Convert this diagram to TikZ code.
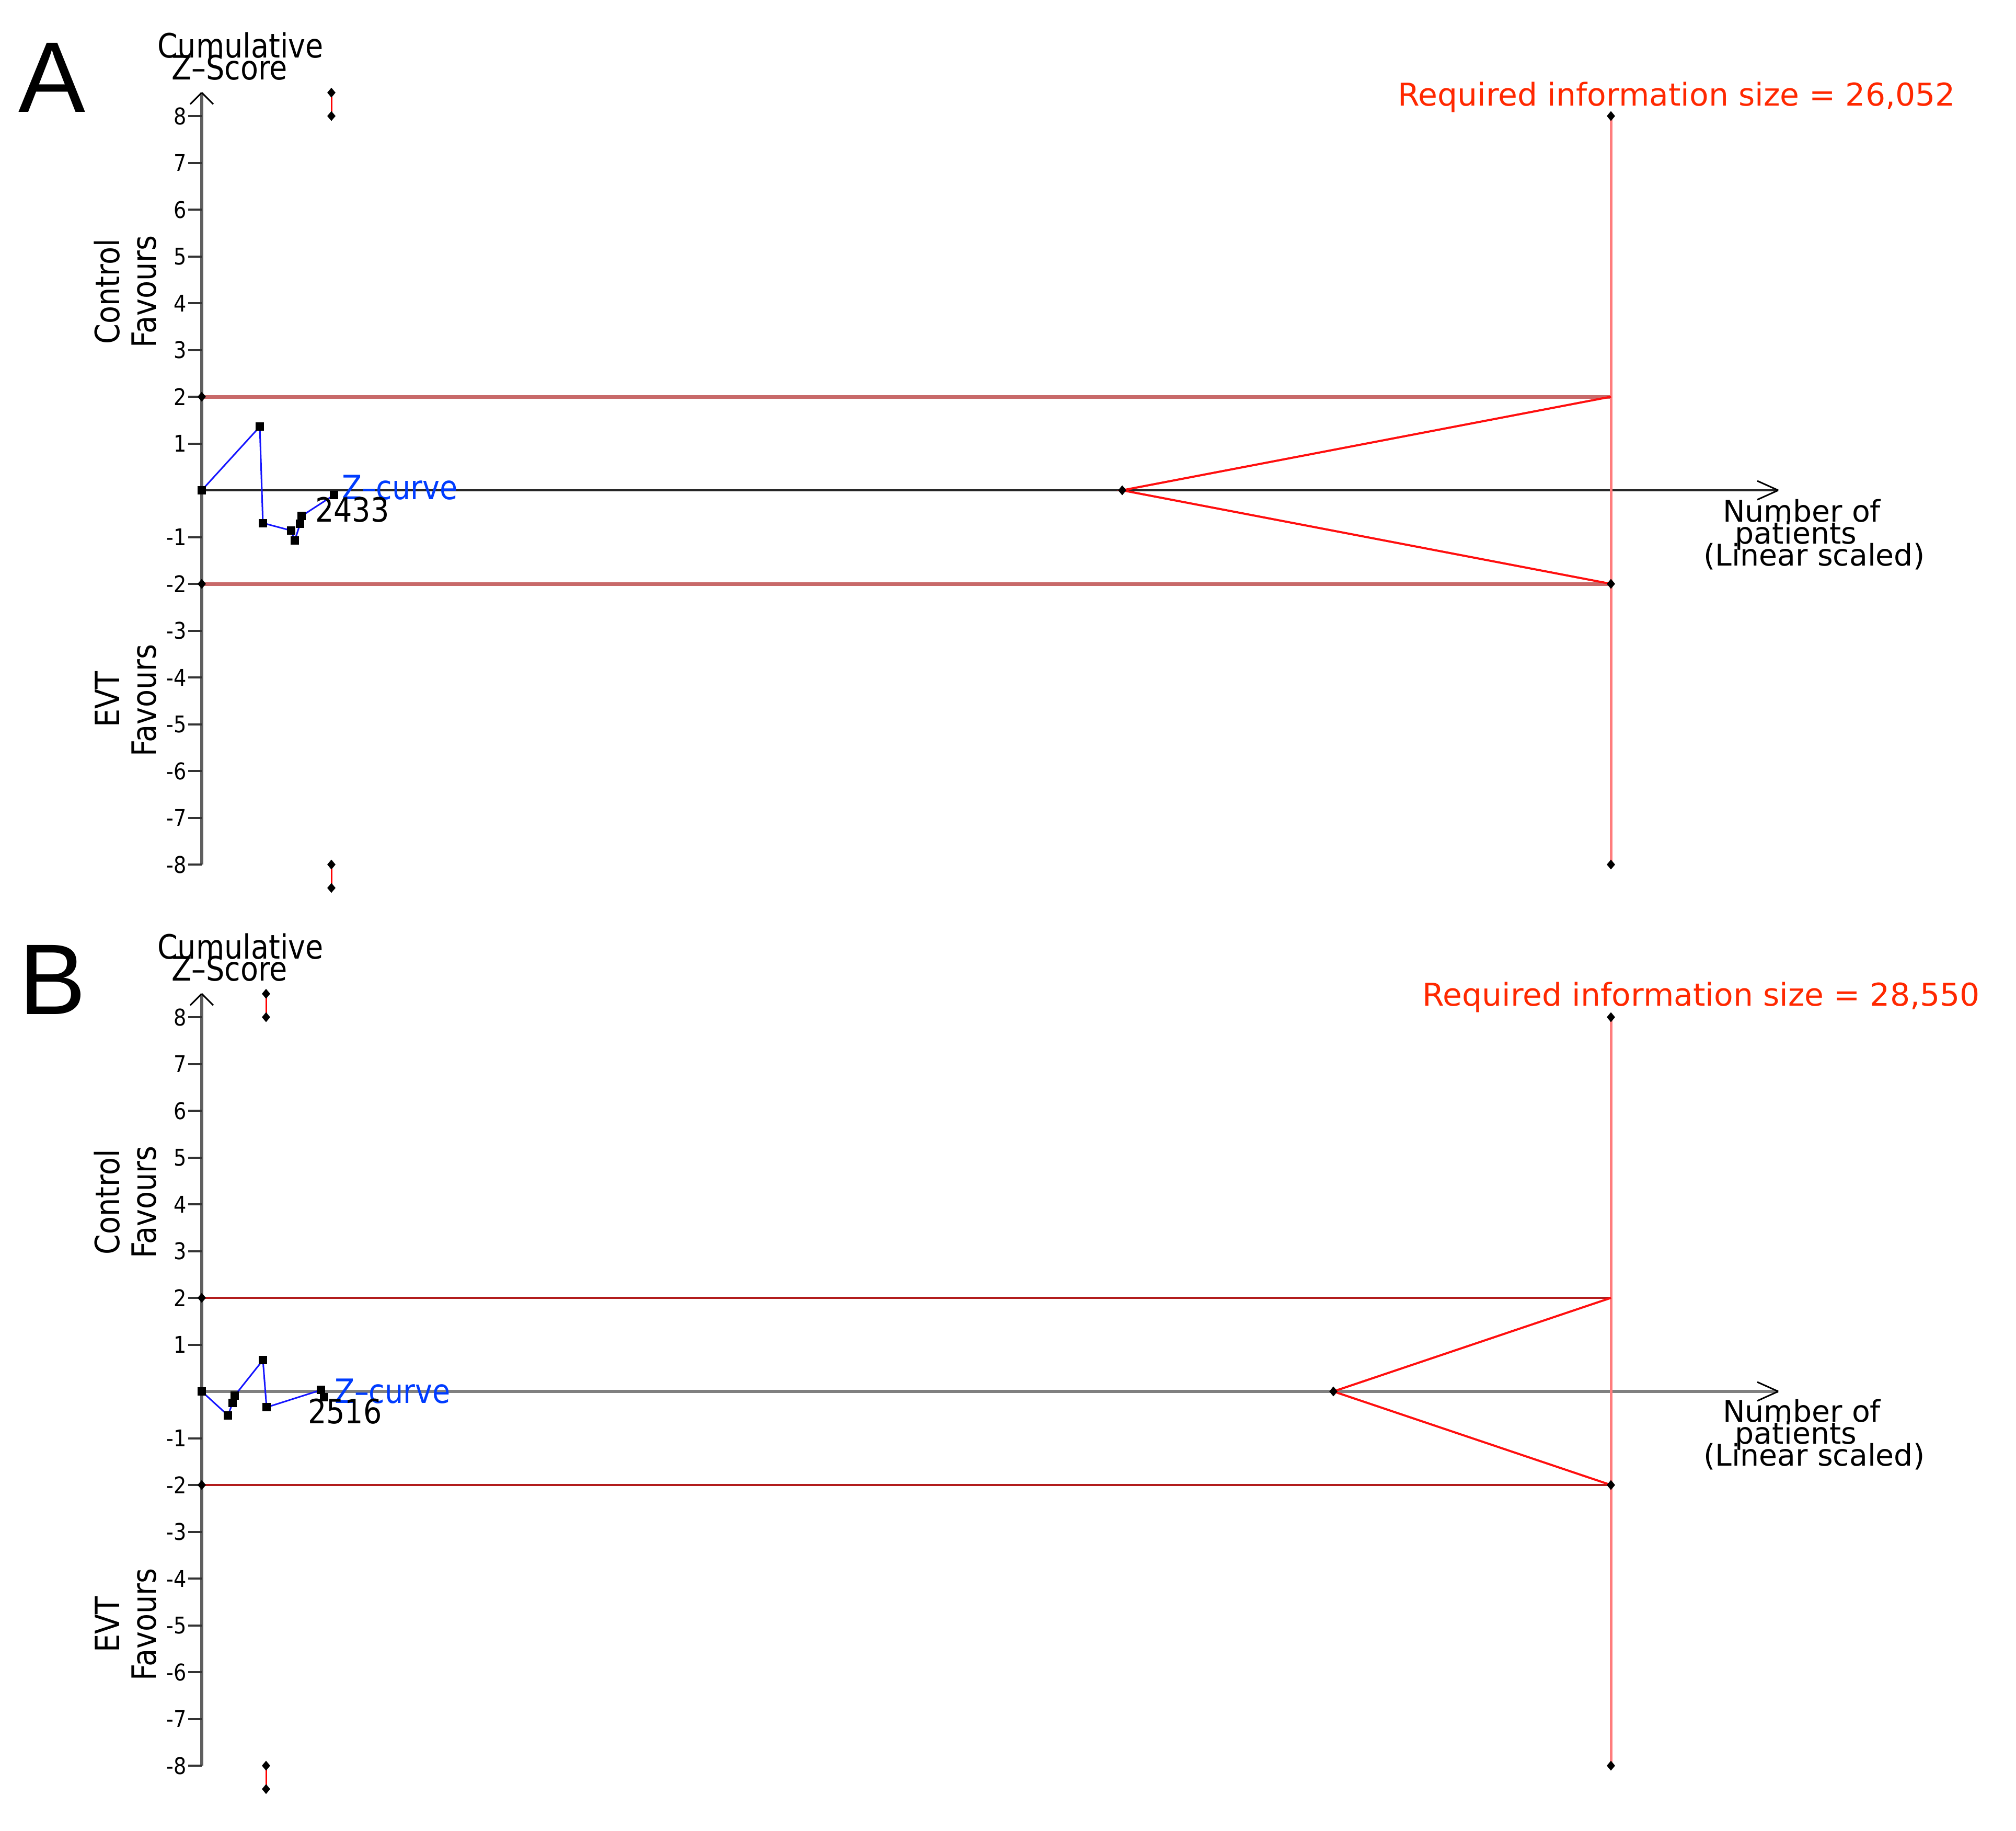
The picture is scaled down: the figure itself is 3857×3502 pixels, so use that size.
\documentclass[tikz,border=0pt]{standalone}
\usepackage{fontspec}
\usetikzlibrary{shapes.geometric}
\setmainfont{DejaVu Sans}
\newfontfamily\condfont[FakeStretch=0.87]{DejaVu Sans}
\newfontfamily\panelfont{Liberation Sans}
\definecolor{axgray}{RGB}{95,95,95}
\definecolor{axgrayB}{RGB}{128,128,128}
\definecolor{bndAcol}{RGB}{200,105,105}
\definecolor{bndBcol}{RGB}{178,28,28}
\definecolor{riscol}{RGB}{255,125,125}
\definecolor{tricol}{RGB}{255,15,15}
\definecolor{txtred}{RGB}{255,40,0}
\definecolor{zcol}{RGB}{20,20,255}
\definecolor{lblblue}{RGB}{0,60,255}
\begin{document}
\begin{tikzpicture}[x=1pt,y=-1pt,
  yax/.style={draw=axgray,line width=6pt},
  xaxA/.style={draw=black!85,line width=4pt},
  xaxB/.style={draw=axgrayB,line width=6pt},
  arrowarm/.style={draw=black,line width=3pt},
  tickmark/.style={draw=black!80,line width=4pt},
  ticklbl/.style={font=\condfont\fontsize{44}{44}\selectfont,inner sep=0pt,anchor=east},
  bndA/.style={draw=bndAcol,line width=7pt},
  bndB/.style={draw=bndBcol,line width=4.5pt},
  risline/.style={draw=riscol,line width=5pt},
  tri/.style={draw=tricol,line width=4pt},
  errbar/.style={draw=red,line width=3pt},
  dotmark/.style={diamond,fill=black,inner sep=0pt,minimum width=16pt,minimum height=19pt},
  sqmark/.style={rectangle,fill=black,inner sep=0pt,minimum size=16pt},
  zc/.style={draw=zcol,line width=3pt},
  condlbl/.style={font=\condfont\fontsize{64}{64}\selectfont,inner sep=0pt},
  widelbl/.style={font=\fontsize{57}{57}\selectfont,inner sep=0pt,anchor=base},
  redlbl/.style={font=\fontsize{60}{60}\selectfont,text=txtred,inner sep=0pt,anchor=base east},
  panellbl/.style={font=\panelfont\fontsize{192}{192}\selectfont,inner sep=0pt},
  zlbl/.style={font=\condfont\fontsize{64}{64}\selectfont,text=lblblue,inner sep=0pt}
]
\useasboundingbox[fill=white] (0,0) rectangle (3857,3502);

% ================= Panel A =================
\begin{scope}[shift={(0,938)},y=89.5pt]
  \coordinate (A-o) at (386,0);
  \coordinate (A-xend) at (3402,0);
  \coordinate (A-ytop) at (386,8.5);
  \coordinate (A-ybot) at (386,-8);
  \draw[xaxA] (A-o) -- (A-xend);
  \draw[arrowarm] (A-xend) -- ++(-40pt,18pt) (A-xend) -- ++(-40pt,-18pt);
  \draw[yax] (A-ybot) -- (A-ytop);
  \draw[arrowarm] (A-ytop) -- ++(-22pt,-22pt) (A-ytop) -- ++(22pt,-22pt);
  \foreach \z in {-8,-7,-6,-5,-4,-3,-2,-1,1,2,3,4,5,6,7,8}{
    \draw[tickmark] (360,\z) -- (386,\z);
    \node[ticklbl] (A-tl\z) at (357,\z) {\z};
  }
  % boundaries
  \coordinate (A-b2l) at (386,2);
  \coordinate (A-b2r) at (3082,2);
  \coordinate (A-bm2l) at (386,-2);
  \coordinate (A-bm2r) at (3082,-2);
  \coordinate (A-r8) at (3082,8);
  \coordinate (A-rm8) at (3082,-8);
  \coordinate (A-apex) at (2147,0);
  \draw[bndA] (A-b2l) -- (A-b2r);
  \draw[bndA] (A-bm2l) -- (A-bm2r);
  \draw[risline] (A-r8) -- (A-rm8);
  \draw[tri] (A-b2r) -- (A-apex) -- (A-bm2r);
  \coordinate (A-et1) at (634,8.5);
  \coordinate (A-et2) at (634,8);
  \coordinate (A-eb1) at (634,-8);
  \coordinate (A-eb2) at (634,-8.5);
  \draw[errbar] (A-et1) -- (A-et2);
  \draw[errbar] (A-eb1) -- (A-eb2);
  \foreach \c in {A-b2l,A-bm2l,A-r8,A-rm8,A-bm2r,A-apex,A-et1,A-et2,A-eb1,A-eb2}{
    \node[dotmark] (\c-d) at (\c) {};
  }
  % z-curve
  \coordinate (A-p0) at (386,0);
  \coordinate (A-p1) at (497,1.36);
  \coordinate (A-p2) at (503,-0.70);
  \coordinate (A-p3) at (557,-0.86);
  \coordinate (A-p4) at (564,-1.07);
  \coordinate (A-p5) at (574,-0.72);
  \coordinate (A-p6) at (577,-0.55);
  \coordinate (A-p7) at (639,-0.10);
  \draw[zc] (A-p0) -- (A-p1) -- (A-p2) -- (A-p3) -- (A-p4) -- (A-p5) -- (A-p6) -- (A-p7);
  \foreach \c in {A-p0,A-p1,A-p2,A-p3,A-p4,A-p5,A-p6,A-p7}{
    \node[sqmark] (\c-s) at (\c) {};
  }
\end{scope}
\node[panellbl] (A-letter) at (100,148) {A};
\node[condlbl,anchor=base] (A-cum) at (460,110) {Cumulative};
\node[condlbl,anchor=base] (A-zs) at (439,152) {Z–Score};
\node[condlbl,rotate=90] (A-ctrl) at (205,558) {Control};
\node[condlbl,rotate=90] (A-fav1) at (276,558) {Favours};
\node[condlbl,rotate=90] (A-evt) at (205,1338) {EVT};
\node[condlbl,rotate=90] (A-fav2) at (276,1340) {Favours};
\node[zlbl] (A-zcl) at (765,933) {Z–curve};
\node[condlbl] (A-n) at (674,975) {2433};
\node[redlbl] (A-ris) at (3741,202) {Required information size = 26,052};
\node[widelbl] (A-x1) at (3447,998) {Number of};
\node[widelbl] (A-x2) at (3436,1040) {patients};
\node[widelbl] (A-x3) at (3471,1082) {(Linear scaled)};

% ================= Panel B =================
\begin{scope}[shift={(0,2662)},y=89.5pt]
  \coordinate (B-o) at (386,0);
  \coordinate (B-xend) at (3402,0);
  \coordinate (B-ytop) at (386,8.5);
  \coordinate (B-ybot) at (386,-8);
  \draw[xaxB] (B-o) -- (B-xend);
  \draw[arrowarm] (B-xend) -- ++(-40pt,18pt) (B-xend) -- ++(-40pt,-18pt);
  \draw[yax] (B-ybot) -- (B-ytop);
  \draw[arrowarm] (B-ytop) -- ++(-22pt,-22pt) (B-ytop) -- ++(22pt,-22pt);
  \foreach \z in {-8,-7,-6,-5,-4,-3,-2,-1,1,2,3,4,5,6,7,8}{
    \draw[tickmark] (360,\z) -- (386,\z);
    \node[ticklbl] (B-tl\z) at (357,\z) {\z};
  }
  \coordinate (B-b2l) at (386,2);
  \coordinate (B-b2r) at (3082,2);
  \coordinate (B-bm2l) at (386,-2);
  \coordinate (B-bm2r) at (3082,-2);
  \coordinate (B-r8) at (3082,8);
  \coordinate (B-rm8) at (3082,-8);
  \coordinate (B-apex) at (2551,0);
  \draw[bndB] (B-b2l) -- (B-b2r);
  \draw[bndB] (B-bm2l) -- (B-bm2r);
  \draw[risline] (B-r8) -- (B-rm8);
  \draw[tri] (B-b2r) -- (B-apex) -- (B-bm2r);
  \coordinate (B-et1) at (509,8.5);
  \coordinate (B-et2) at (509,8);
  \coordinate (B-eb1) at (509,-8);
  \coordinate (B-eb2) at (509,-8.5);
  \draw[errbar] (B-et1) -- (B-et2);
  \draw[errbar] (B-eb1) -- (B-eb2);
  \foreach \c in {B-b2l,B-bm2l,B-r8,B-rm8,B-bm2r,B-apex,B-et1,B-et2,B-eb1,B-eb2}{
    \node[dotmark] (\c-d) at (\c) {};
  }
  \coordinate (B-p0) at (386,0);
  \coordinate (B-p1) at (436,-0.51);
  \coordinate (B-p2) at (445,-0.25);
  \coordinate (B-p3) at (449,-0.09);
  \coordinate (B-p4) at (503,0.67);
  \coordinate (B-p5) at (510,-0.34);
  \coordinate (B-p6) at (614,0.03);
  \coordinate (B-p7) at (620,-0.12);
  \draw[zc] (B-p0) -- (B-p1) -- (B-p2) -- (B-p3) -- (B-p4) -- (B-p5) -- (B-p6) -- (B-p7);
  \foreach \c in {B-p0,B-p1,B-p2,B-p3,B-p4,B-p5,B-p6,B-p7}{
    \node[sqmark] (\c-s) at (\c) {};
  }
\end{scope}
\node[panellbl] (B-letter) at (101,1874) {B};
\node[condlbl,anchor=base] (B-cum) at (460,1834) {Cumulative};
\node[condlbl,anchor=base] (B-zs) at (439,1876) {Z–Score};
\node[condlbl,rotate=90] (B-ctrl) at (205,2300) {Control};
\node[condlbl,rotate=90] (B-fav1) at (276,2300) {Favours};
\node[condlbl,rotate=90] (B-evt) at (205,3108) {EVT};
\node[condlbl,rotate=90] (B-fav2) at (276,3108) {Favours};
\node[zlbl] (B-zcl) at (751,2662) {Z–curve};
\node[condlbl] (B-n) at (660,2700) {2516};
\node[redlbl] (B-ris) at (3788,1924) {Required information size = 28,550};
\node[widelbl] (B-x1) at (3447,2720) {Number of};
\node[widelbl] (B-x2) at (3436,2762) {patients};
\node[widelbl] (B-x3) at (3471,2804) {(Linear scaled)};
\end{tikzpicture}
\end{document}
